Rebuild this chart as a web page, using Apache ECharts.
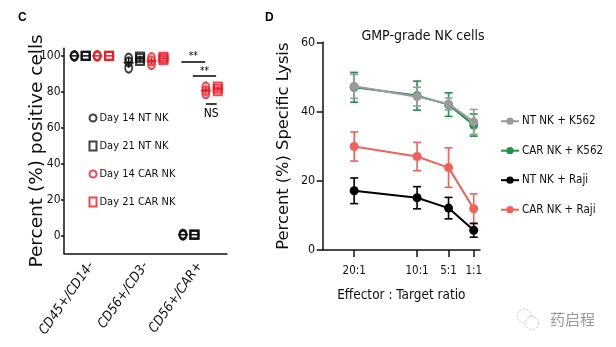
<!DOCTYPE html>
<html>
<head>
<meta charset="utf-8">
<script src="https://cdn.jsdelivr.net/npm/echarts@6/dist/echarts.min.js"></script>
<style>
  html, body { margin: 0; padding: 0; background: #fff; }
  #chart { width: 616px; height: 347px; }
</style>
</head>
<body>
<div id="chart"></div>
<script>
// ---- Panel C: phenotype of NK products (replicates per marker group) ----
const markerCategories = ['CD45+/CD14-', 'CD56+/CD3-', 'CD56+/CAR+'];
const yTicksC = [0, 20, 40, 60, 80, 100];
const groupNames = ['Day 14 NT NK', 'Day 21 NT NK', 'Day 14 CAR NK', 'Day 21 CAR NK'];
const day14NT = [[99.9, 99.7, 99.8], [98.5, 96.5, 93.0], [0.8, 0.4, 0.2]];
const day21NT = [[99.8, 99.9, 99.7], [99.5, 98.5, 97.0], [0.6, 0.5, 0.3]];
const day14CAR = [[99.9, 99.8, 99.7], [98.8, 97.0, 95.0], [82.5, 80.5, 78.8]];
const day21CAR = [[99.8, 99.9, 99.7], [99.3, 98.5, 97.5], [82.8, 81.5, 80.2]];

// ---- Panel D: cytotoxicity vs effector:target ratio (mean and SD) ----
const ratioTicks = [20, 10, 5, 1];
const yTicksD = [0, 20, 40, 60];
const ntK562 = [47.3, 44.3, 42.2, 37.0];
const ntK562Sd = [3.5, 2.7, 1.7, 3.6];
const carK562 = [47.0, 44.6, 42.0, 36.1];
const carK562Sd = [4.3, 4.2, 3.4, 3.2];
const ntRaji = [17.1, 15.1, 12.1, 5.7];
const ntRajiSd = [3.7, 3.2, 3.1, 2.0];
const carRaji = [29.9, 27.0, 23.8, 11.9];
const carRajiSd = [4.2, 4.1, 5.7, 4.3];

const NARROW = '"Liberation Sans Narrow", "DejaVu Sans Condensed", "Roboto Condensed", Roboto, sans-serif';
const ROUND = '"DejaVu Sans", "Open Sans", sans-serif';

// horizontal placement of each group inside a category band (category units)
const groupOffset = [-0.31, -0.1, 0.11, 0.33];
const groupStyle = [
  { symbol: 'circle', color: '#111' },
  { symbol: 'rect', color: '#111' },
  { symbol: 'circle', color: '#ee1c25' },
  { symbol: 'rect', color: '#ee1c25' }
];
const groupValues = [day14NT, day21NT, day14CAR, day21CAR];

function mean(a) { return a.reduce((s, v) => s + v, 0) / a.length; }
function sd(a) {
  const m = mean(a);
  return Math.sqrt(a.reduce((s, v) => s + (v - m) * (v - m), 0) / (a.length - 1));
}

const seriesC = [];
groupValues.forEach((vals, g) => {
  const st = groupStyle[g];
  const pts = [];
  vals.forEach((reps, i) => reps.forEach(v => pts.push([i + groupOffset[g], v])));
  seriesC.push({
    name: groupNames[g],
    type: 'scatter',
    xAxisIndex: 1, yAxisIndex: 0,
    symbol: st.symbol,
    symbolSize: st.symbol === 'circle' ? [7, 9] : [8, 8],
    itemStyle: { color: 'rgba(255,255,255,0)', borderColor: st.color, borderWidth: 2 },
    data: pts,
    z: 3
  });
  seriesC.push({
    type: 'custom',
    xAxisIndex: 1, yAxisIndex: 0,
    silent: true,
    z: 4,
    data: vals.map((reps, i) => [i + groupOffset[g], mean(reps), sd(reps)]),
    renderItem: (params, api) => {
      const c = api.coord([api.value(0), api.value(1)]);
      const t = api.coord([api.value(0), api.value(1) + api.value(2)]);
      const b = api.coord([api.value(0), api.value(1) - api.value(2)]);
      const ls = { stroke: st.color, lineWidth: 1.5 };
      return { type: 'group', children: [
        { type: 'line', shape: { x1: c[0] - 5, y1: c[1], x2: c[0] + 5, y2: c[1] }, style: ls },
        { type: 'line', shape: { x1: c[0], y1: t[1], x2: c[0], y2: b[1] }, style: ls }
      ] };
    }
  });
});

// significance brackets in the CAR+ category
const bracketLine = { color: '#000', width: 1.5, type: 'solid' };
seriesC.push({
  type: 'scatter', xAxisIndex: 1, yAxisIndex: 0, data: [], silent: true,
  markLine: {
    symbol: 'none', silent: true, animation: false,
    lineStyle: bracketLine,
    data: [
      [{ coord: [2 + groupOffset[0] - 0.03, 96.5], label: { show: true, formatter: '**', position: 'middle', distance: 0, fontSize: 10, fontFamily: NARROW, color: '#000' } },
       { coord: [2 + groupOffset[2] - 0.01, 96.5] }],
      [{ coord: [2 + groupOffset[1] - 0.03, 88.6], label: { show: true, formatter: '**', position: 'middle', distance: 0, fontSize: 10, fontFamily: NARROW, color: '#000' } },
       { coord: [2 + groupOffset[3] - 0.03, 88.6] }],
      [{ coord: [2 + groupOffset[2], 73.4], label: { show: true, formatter: 'NS', position: 'insideMiddleBottom', distance: 4, fontSize: 12, fontFamily: NARROW, color: '#000' } },
       { coord: [2 + groupOffset[3] - 0.02, 73.4] }]
    ]
  }
});

// ---- Panel D series ----
const lineDefs = [
  { name: 'CAR NK + K562', vals: carK562, err: carK562Sd, color: '#1e9446' },
  { name: 'NT NK + K562', vals: ntK562, err: ntK562Sd, color: '#9b9b9b' },
  { name: 'CAR NK + Raji', vals: carRaji, err: carRajiSd, color: '#f2605a' },
  { name: 'NT NK + Raji', vals: ntRaji, err: ntRajiSd, color: '#000000' }
];
const seriesD = [];
lineDefs.forEach((d, k) => {
  seriesD.push({
    type: 'custom',
    xAxisIndex: 2, yAxisIndex: 1,
    silent: true,
    z: 2 + k * 2,
    data: ratioTicks.map((r, i) => [r, d.vals[i], d.err[i]]),
    renderItem: (params, api) => {
      const t = api.coord([api.value(0), api.value(1) + api.value(2)]);
      const b = api.coord([api.value(0), api.value(1) - api.value(2)]);
      const ls = { stroke: d.color, lineWidth: 1.6 };
      return { type: 'group', children: [
        { type: 'line', shape: { x1: t[0], y1: t[1], x2: b[0], y2: b[1] }, style: ls },
        { type: 'line', shape: { x1: t[0] - 4, y1: t[1], x2: t[0] + 4, y2: t[1] }, style: ls },
        { type: 'line', shape: { x1: b[0] - 4, y1: b[1], x2: b[0] + 4, y2: b[1] }, style: ls }
      ] };
    }
  });
  seriesD.push({
    name: d.name,
    type: 'line',
    xAxisIndex: 2, yAxisIndex: 1,
    z: 3 + k * 2,
    symbol: 'circle',
    symbolSize: 9,
    color: d.color,
    lineStyle: { color: d.color, width: 2 },
    itemStyle: { color: d.color },
    data: ratioTicks.map((r, i) => [r, d.vals[i]])
  });
});

const axisInk = { color: '#111', width: 1.5 };
const chart = echarts.init(document.getElementById('chart'), null, { renderer: 'canvas' });
chart.setOption({
  animation: false,
  backgroundColor: '#fff',
  title: [
    { text: 'C', left: 13, top: 7, textStyle: { fontSize: 12, fontWeight: 'bold', fontFamily: 'Liberation Sans, Arial', color: '#000' } },
    { text: 'D', left: 260, top: 7, textStyle: { fontSize: 12, fontWeight: 'bold', fontFamily: 'Liberation Sans, Arial', color: '#000' } },
    { text: 'GMP-grade NK cells', left: 423, top: 29.5, padding: 0, textAlign: 'center', textStyle: { fontSize: 14, fontWeight: 'normal', fontFamily: NARROW, color: '#111' } }
  ],
  legend: [
    {
      data: groupNames, orient: 'vertical', left: 88.5, top: 112.5, padding: 0,
      itemWidth: 7, itemHeight: 9, itemGap: 17,
      textStyle: { fontSize: 11, fontFamily: NARROW, color: '#111', padding: [0, 0, 0, -2] }
    },
    {
      data: ['NT NK + K562', 'CAR NK + K562', 'NT NK + Raji', 'CAR NK + Raji'],
      orient: 'vertical', left: 500, top: 115.2, padding: 0,
      itemWidth: 18, itemHeight: 9, itemGap: 17.5,
      textStyle: { fontSize: 11.5, fontFamily: NARROW, color: '#111', padding: [0, 0, 0, -2] }
    }
  ],
  grid: [
    { left: 64, top: 48.3, width: 163, height: 205.2 },
    { left: 322.7, top: 42.3, width: 157.3, height: 207.7 }
  ],
  xAxis: [
    {
      type: 'category', gridIndex: 0, data: markerCategories,
      axisLine: { onZero: false, lineStyle: axisInk },
      axisTick: { alignWithLabel: true, length: 8, lineStyle: axisInk },
      axisLabel: { rotate: 55, margin: 10, fontSize: 13.5, fontStyle: 'italic', fontFamily: NARROW, color: '#111' }
    },
    { type: 'value', gridIndex: 0, min: -0.5, max: 2.5, show: false },
    {
      type: 'value', gridIndex: 1, min: 0, max: 25, inverse: true,
      name: 'Effector : Target ratio', nameLocation: 'middle', nameGap: 38, nameMoveOverlap: false,
      nameTextStyle: { fontSize: 13.5, fontFamily: NARROW, color: '#111' },
      splitLine: { show: false },
      axisLine: { onZero: false, lineStyle: axisInk },
      axisTick: { customValues: ratioTicks, length: 7, lineStyle: axisInk },
      axisLabel: { customValues: ratioTicks, formatter: v => v + ':1', margin: 15.5, fontSize: 11.5, fontFamily: NARROW, color: '#111' }
    }
  ],
  yAxis: [
    {
      type: 'value', gridIndex: 0, min: -10, max: 104,
      name: 'Percent (%) positive cells', nameLocation: 'middle', nameGap: 17, nameMoveOverlap: false,
      nameTextStyle: { fontSize: 18.5, fontFamily: ROUND, color: '#111' },
      splitLine: { show: false },
      axisLine: { show: true, onZero: false, lineStyle: axisInk },
      axisTick: { show: true, customValues: yTicksC, length: 3, lineStyle: axisInk },
      axisLabel: { customValues: yTicksC, margin: 3.5, fontSize: 12, fontFamily: NARROW, color: '#111' }
    },
    {
      type: 'value', gridIndex: 1, min: 0, max: 60, interval: 20,
      name: 'Percent (%) Specific Lysis', nameLocation: 'middle', nameGap: 31, nameMoveOverlap: false,
      nameTextStyle: { fontSize: 16.3, fontFamily: ROUND, color: '#111' },
      splitLine: { show: false },
      axisLine: { show: true, onZero: false, lineStyle: axisInk },
      axisTick: { show: true, length: 6, lineStyle: axisInk },
      axisLabel: { margin: 7.5, fontSize: 12.5, fontFamily: NARROW, color: '#111' }
    }
  ],
  graphic: [
    { type: 'circle', shape: { cx: 524, cy: 316, r: 7 }, style: { fill: 'none', stroke: '#c4c4c4', lineWidth: 1, lineDash: [2, 1.5] } },
    { type: 'circle', shape: { cx: 532, cy: 323, r: 6.5 }, style: { fill: '#fff', stroke: '#c4c4c4', lineWidth: 1, lineDash: [2, 1.5] } },
    { type: 'text', left: 550, top: 312, style: { text: '药启程', fontSize: 15, fontFamily: '"Noto Sans CJK SC", sans-serif', fill: '#9a9a9a' } }
  ],
  series: seriesC.concat(seriesD)
});
</script>
</body>
</html>
